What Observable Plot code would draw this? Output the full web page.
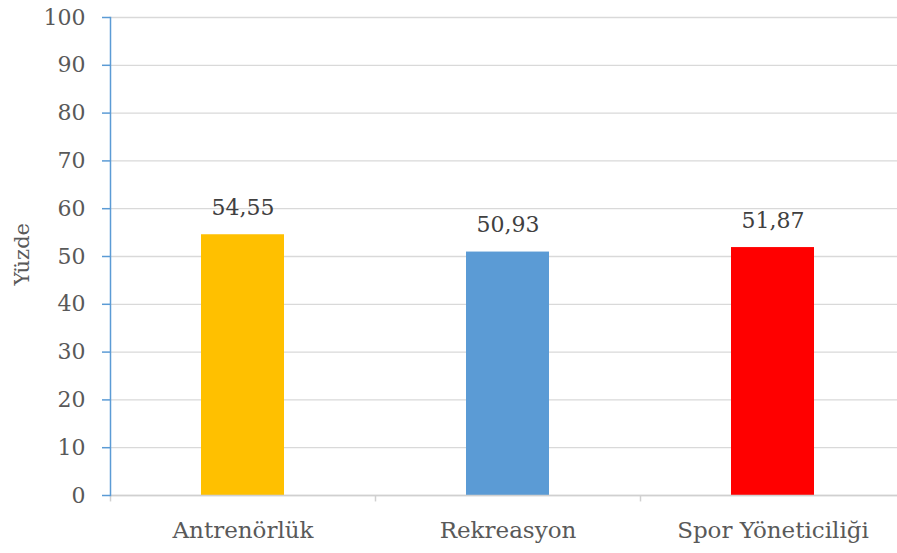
<!DOCTYPE html>
<html>
<head>
<meta charset="utf-8">
<script src="https://cdn.jsdelivr.net/npm/d3@7"></script>
<script src="https://cdn.jsdelivr.net/npm/@observablehq/plot@0.6"></script>
<style>
  html, body { margin: 0; padding: 0; background: #fff; }
  #chart svg { display: block; }
</style>
</head>
<body>
<div id="chart"></div>
<script>
const categories = ["Antrenörlük", "Rekreasyon", "Spor Yöneticiliği"];
const values = [54.55, 50.93, 51.87];
const labels = ["54,55", "50,93", "51,87"];
const colors = ["#FFC000", "#5B9BD5", "#FF0000"];
const yTicks = [0, 10, 20, 30, 40, 50, 60, 70, 80, 90, 100];

const data = categories.map((c, i) => ({cat: c, value: values[i], label: labels[i], color: colors[i]}));
const font = "DejaVu Serif";

const chart = Plot.plot({
  width: 897,
  height: 553,
  marginTop: 17,
  marginBottom: 58,
  marginLeft: 110,
  marginRight: 0,
  style: {fontFamily: font, background: "#fff", overflow: "visible"},
  x: {domain: categories, range: [110, 905], paddingInner: 0.687, paddingOuter: 0.3435, label: null},
  y: {domain: [0, 100], label: null},
  color: {type: "identity"},
  marks: [
    Plot.gridY(yTicks, {stroke: "#d9d9d9", strokeOpacity: 1, strokeWidth: 1.3}),
    Plot.barY(data, {x: "cat", y: "value", fill: "color"}),
    Plot.ruleY([0], {stroke: "#d0d0d0", strokeWidth: 1.5}),
    Plot.ruleX(categories, {x: d => d, dx: -132.5, y1: 0, y2: -1.35, stroke: "#d0d0d0", strokeWidth: 1.5, clip: false}),
    Plot.frame({anchor: "left", stroke: "#5B9BD5", strokeWidth: 1.5}),
    Plot.axisY(yTicks, {anchor: "left", tickSize: 8, tickPadding: 17, stroke: "#5B9BD5", strokeWidth: 1.5, fill: "#595959", fontSize: 22, fontFamily: font, label: null}),
    Plot.axisX({tickSize: 0, tickPadding: 26, fill: "#595959", fontSize: 23, fontFamily: font, label: null}),
    Plot.text(data, {x: "cat", y: "value", text: "label", lineAnchor: "bottom", dy: -20, fill: "#404040", fontSize: 22, fontFamily: font}),
    Plot.text(["Yüzde"], {frameAnchor: "left", dx: -88, dy: 29, rotate: -90, fill: "#595959", fontSize: 21, fontFamily: font})
  ]
});
document.getElementById("chart").appendChild(chart);
</script>
</body>
</html>
